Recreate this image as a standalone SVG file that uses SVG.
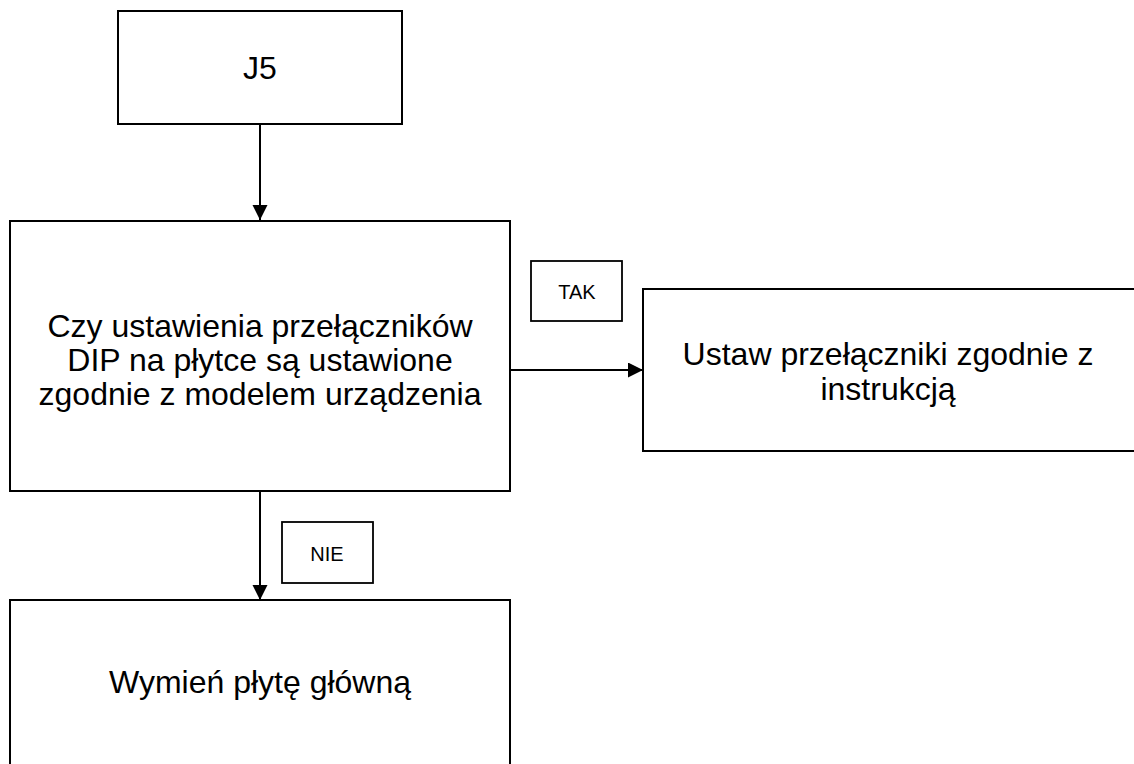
<svg xmlns="http://www.w3.org/2000/svg" width="1134" height="764" viewBox="0 0 1134 764">
<style>
.box{fill:#fff;stroke:#000;stroke-width:2}
.lbl{fill:#fff;stroke:#000;stroke-width:1.8}
.t{font-family:"Liberation Sans",Arial,sans-serif;font-size:32px;fill:#000;text-anchor:middle}
.s{font-family:"Liberation Sans",Arial,sans-serif;font-size:20px;fill:#000;text-anchor:middle}
.c{stroke:#000;stroke-width:2;fill:none}
</style>
<defs>
<marker id="arr" markerUnits="userSpaceOnUse" markerWidth="16" markerHeight="16" refX="15" refY="7.5" orient="auto">
<path d="M0,0 L15,7.5 L0,15 Z" fill="#000"/>
</marker>
</defs>
<rect width="1134" height="764" fill="#fff"/>
<g id="connectors">
<line class="c" x1="260" y1="124" x2="260" y2="220" marker-end="url(#arr)"/>
<line class="c" x1="510" y1="370" x2="643" y2="370" marker-end="url(#arr)"/>
<line class="c" x1="260" y1="491" x2="260" y2="600" marker-end="url(#arr)"/>
</g>
<g id="node-j5">
<rect class="box" x="118" y="11" width="284" height="113"/>
<text class="t" x="260" y="79">J5</text>
</g>
<g id="node-question">
<rect class="box" x="10" y="221" width="500" height="270"/>
<text class="t" x="260" y="337">Czy ustawienia przełączników</text>
<text class="t" x="260" y="371">DIP na płytce są ustawione</text>
<text class="t" x="260" y="405">zgodnie z modelem urządzenia</text>
</g>
<g id="label-tak">
<rect class="lbl" x="531" y="261" width="91" height="60"/>
<text class="s" x="577" y="299">TAK</text>
</g>
<g id="node-ustaw">
<rect class="box" x="643" y="289" width="500" height="162"/>
<text class="t" x="888" y="365">Ustaw przełączniki zgodnie z</text>
<text class="t" x="888" y="400">instrukcją</text>
</g>
<g id="label-nie">
<rect class="lbl" x="282" y="522" width="91" height="61"/>
<text class="s" x="327" y="561">NIE</text>
</g>
<g id="node-wymien">
<rect class="box" x="10" y="600" width="500" height="180"/>
<text class="t" x="260" y="693">Wymień płytę główną</text>
</g>
</svg>
